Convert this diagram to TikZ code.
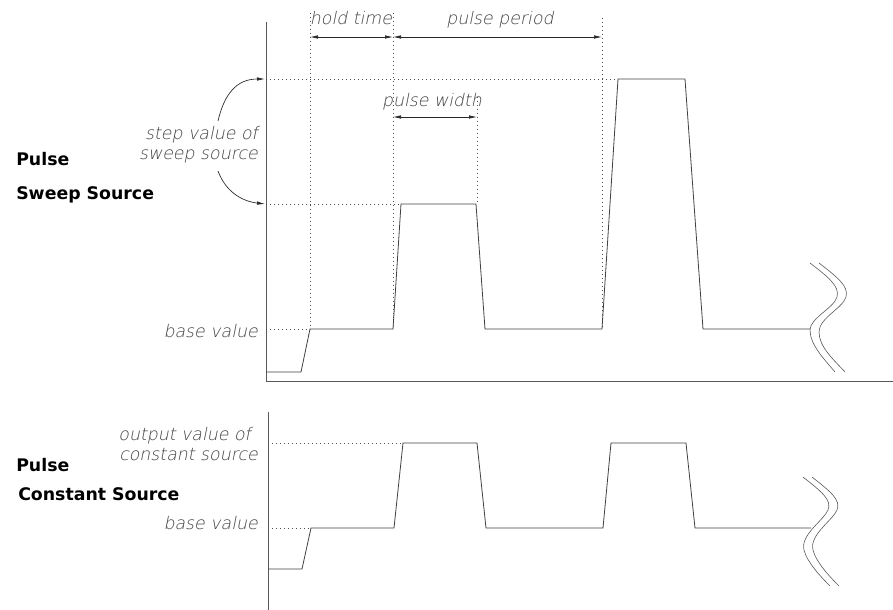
\documentclass[tikz,border=0pt]{standalone}
\usepackage{fontspec}
\usetikzlibrary{arrows.meta}
\newfontfamily\lblfont[FakeSlant=0.2]{DejaVu Sans ExtraLight}
\newfontfamily\headfont{DejaVu Sans Bold}
\begin{document}
\begin{tikzpicture}[x=0.75pt,y=-0.75pt,
  axis/.style={draw=black!65,line width=0.7pt},
  wave/.style={draw=black!75,line width=0.6pt,line join=miter},
  guide/.style={draw=black!70,line width=0.5pt,dash pattern=on 0.6pt off 2.4pt},
  dimarrow/.style={draw=black!85,line width=0.5pt,{Latex[length=6pt,width=2.6pt]}-{Latex[length=6pt,width=2.6pt]}},
  curvearrow/.style={draw=black!85,line width=0.5pt,-{Latex[length=6pt,width=2.6pt]}},
  brk/.style={draw=black!65,line width=0.45pt},
  lbl/.style={font=\lblfont\fontsize{13}{15}\selectfont,text=black!75,inner sep=0pt},
  head/.style={font=\headfont\fontsize{13}{15}\selectfont,text=black,inner sep=0pt,anchor=base west}]
\useasboundingbox (0,0) rectangle (893,610);

% ---------- top panel ----------
\draw[axis] (266,22) -- (266,381) -- (893,381);
% guides
\draw[guide] (266,79) -- (616,79);
\draw[guide] (266,204) -- (401,204);
\draw[guide] (266,329) -- (310,329);
\draw[guide] (310,13) -- (310,329);
\draw[guide] (393,13) -- (393,329);
\draw[guide] (477,97) -- (477,204);
\draw[guide] (602,18) -- (602,329);
% waveform
\draw[wave] (266,372) -- (301,372) -- (310,329) -- (393,329) -- (401,204) -- (476,204)
  -- (485,329) -- (602,329) -- (618,79) -- (685,79) -- (703,329) -- (810,329);
% break symbol
\draw[brk] (810,263) .. controls (828,277) and (840,286) .. (837,297)
  .. controls (834,308) and (810,318) .. (810,330)
  .. controls (810,345) and (825,360) .. (835,372);
\draw[brk] (819,263) .. controls (837,277) and (849,286) .. (846,297)
  .. controls (843,308) and (819,318) .. (819,332)
  .. controls (819,347) and (834,360) .. (845,372);
% dimension arrows
\coordinate (h1) at (310,37); \coordinate (h2) at (393,37);
\coordinate (p2) at (602,37);
\coordinate (w1) at (393,117); \coordinate (w2) at (477,117);
\draw[dimarrow] (h1) -- (h2);
\draw[dimarrow] (h2) -- (p2);
\draw[dimarrow] (w1) -- (w2);
\node[lbl,anchor=base] (holdtime) at (351,25) {hold time};
\node[lbl,anchor=base] (pulseperiod) at (500,25) {pulse period};
\node[lbl,anchor=base] (pulsewidth) at (432,107) {pulse width};
% step value label and curved arrows
\node[lbl,anchor=base east] (step1) at (258,139) {step value of};
\node[lbl,anchor=base east] (step2) at (258,160) {sweep source};
\coordinate (s1) at (218,121); \coordinate (t1) at (265,79);
\coordinate (s2) at (218,171); \coordinate (t2) at (265,204);
\draw[curvearrow] (s1) .. controls (224,95) and (236,79) .. (t1);
\draw[curvearrow] (s2) .. controls (225,190) and (240,201) .. (t2);
\node[lbl,anchor=base east] (base1) at (258,337) {base value};
\node[head] (pulse1) at (16,166) {Pulse};
\node[head] (sweep) at (16,199) {Sweep Source};

% ---------- bottom panel ----------
\draw[axis] (268,412) -- (268,610);
\draw[guide] (268,443) -- (403,443);
\draw[guide] (268,528) -- (311,528);
\draw[wave] (268,569) -- (302,569) -- (311,528) -- (394,528) -- (403,443) -- (477,443)
  -- (486,528) -- (603,528) -- (611,443) -- (686,443) -- (695,528) -- (811,528);
\draw[brk] (803,477) .. controls (822,492) and (832,500) .. (828,510)
  .. controls (824,520) and (800,535) .. (804,550)
  .. controls (807,562) and (820,576) .. (830,586);
\draw[brk] (812,477) .. controls (831,492) and (841,500) .. (837,510)
  .. controls (833,520) and (809,535) .. (813,550)
  .. controls (816,562) and (829,576) .. (839,586);
\node[lbl,anchor=base east] (out1) at (251,440) {output value of};
\node[lbl,anchor=base east] (out2) at (258,460) {constant source};
\node[lbl,anchor=base east] (base2) at (258,529) {base value};
\node[head] (pulse2) at (16,471) {Pulse};
\node[head] (const) at (18,500) {Constant Source};
\end{tikzpicture}
\end{document}
